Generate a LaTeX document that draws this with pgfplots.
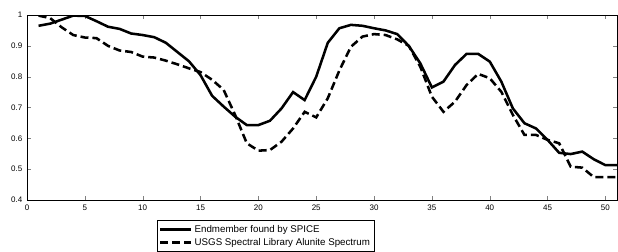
\documentclass[border=0pt]{standalone}
\usepackage{pgfplots}
\pgfplotsset{compat=1.18}
\usepackage{fontspec}
\setmainfont{Liberation Sans}
\begin{document}
\begin{tikzpicture}
\begin{axis}[
  scale only axis,
  width=442.5pt, height=138.75pt,
  xmin=0, xmax=51, ymin=0.4, ymax=1,
  xtick={0,5,...,50},
  ytick={0.4,0.5,0.6,0.7,0.8,0.9,1},
  yticklabels={0.4,0.5,0.6,0.7,0.8,0.9,1},
  tick align=inside,
  major tick length=3pt,
  xtick pos=both, ytick pos=both,
  tick label style={font=\fontsize{6}{7}\selectfont},
  /pgf/number format/assume math mode=true,
  axis line style={line width=0.6pt},
  legend style={at={(rel axis cs:0.22,0)}, anchor=north west, yshift=-15pt,
    font=\fontsize{7.3}{8}\selectfont, draw=black, line width=0.5pt,
    inner sep=1.5pt, row sep=-1pt, legend cell align=left},
  legend image code/.code={\draw[#1] (0cm,0cm) -- (0.8cm,0cm);},
]
\addplot[black, line width=1.9pt] coordinates {
(1,0.965)(2,0.972)(3,0.985)(4,0.998)(5,0.997)(6,0.98)(7,0.962)(8,0.955)(9,0.94)(10,0.935)
(11,0.928)(12,0.91)(13,0.88)(14,0.85)(15,0.805)(16,0.738)(17,0.703)(18,0.67)(19,0.643)(20,0.643)
(21,0.657)(22,0.697)(23,0.75)(24,0.724)(25,0.80)(26,0.91)(27,0.957)(28,0.968)(29,0.965)(30,0.957)
(31,0.95)(32,0.938)(33,0.9)(34,0.843)(35,0.765)(36,0.784)(37,0.838)(38,0.874)(39,0.874)(40,0.849)
(41,0.784)(42,0.697)(43,0.649)(44,0.632)(45,0.595)(46,0.553)(47,0.549)(48,0.557)(49,0.532)(50,0.513)(51,0.513)
};
\addlegendentry{Endmember found by SPICE}
\addplot[black, line width=1.9pt, dash pattern=on 6pt off 3pt] coordinates {
(1,0.998)(2,0.99)(3,0.96)(4,0.935)(5,0.927)(6,0.925)(7,0.90)(8,0.885)(9,0.88)(10,0.865)
(11,0.862)(12,0.852)(13,0.84)(14,0.827)(15,0.815)(16,0.79)(17,0.757)(18,0.675)(19,0.584)(20,0.56)
(21,0.562)(22,0.589)(23,0.632)(24,0.686)(25,0.668)(26,0.73)(27,0.82)(28,0.897)(29,0.93)(30,0.938)
(31,0.935)(32,0.921)(33,0.9)(34,0.832)(35,0.735)(36,0.686)(37,0.719)(38,0.773)(39,0.809)(40,0.795)
(41,0.751)(42,0.676)(43,0.611)(44,0.611)(45,0.595)(46,0.584)(47,0.508)(48,0.505)(49,0.474)(50,0.474)(51,0.474)
};
\addlegendentry{USGS Spectral Library Alunite Spectrum}
\end{axis}
\pgfresetboundingbox
\path[use as bounding box] (-20.25pt,-38.25pt) rectangle (443.25pt,150pt);
\end{tikzpicture}
\end{document}
